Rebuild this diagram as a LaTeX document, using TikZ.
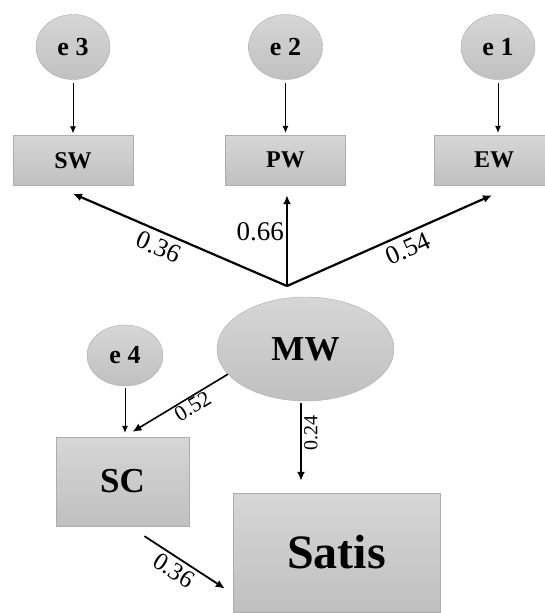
\documentclass[tikz,border=0pt]{standalone}
\usepackage{fontspec}
\setmainfont{Liberation Serif}
\usetikzlibrary{shapes.geometric,arrows.meta}
\definecolor{fillTop}{RGB}{214,214,214}
\definecolor{fillBot}{RGB}{192,192,192}
\definecolor{rim}{RGB}{172,172,172}
\newcommand{\fs}[1]{\fontsize{#1}{#1}\selectfont}
\begin{document}
\begin{tikzpicture}[x=1pt,y=-1pt,
    err/.style={ellipse,draw=rim,top color=fillTop,bottom color=fillBot,inner sep=0pt,
        minimum width=74pt,minimum height=65pt,font=\fs{26}\bfseries},
    obs/.style={rectangle,draw=rim,top color=fillTop,bottom color=fillBot,inner sep=0pt,
        minimum width=120pt,minimum height=50pt,font=\fs{24}\bfseries},
    thin/.style={-{Latex[length=7pt,width=6pt]},line width=0.8pt},
    path/.style={-{Latex[length=9pt,width=8pt]},line width=2.2pt}]
    \useasboundingbox (0,0) rectangle (545,613);
    \node[err] (e3) at (73,47) {e 3};
    \node[err] (e2) at (285.5,47) {e 2};
    \node[err] (e1) at (498,47) {e 1};
    \node[obs] (SW) at (73,160.5) {SW};
    \node[obs] (PW) at (285.5,160) {PW};
    \node[obs] (EW) at (494,160) {EW};
    \node[err,minimum width=177pt,minimum height=104pt,font=\fs{35}\bfseries] (MW) at (305.5,349) {MW};
    \node[err,minimum width=76pt,minimum height=61pt] (e4) at (125,355.5) {e 4};
    \node[obs,minimum width=133pt,minimum height=89pt,font=\fs{35}\bfseries] (SC) at (122.5,481.5) {SC};
    \node[obs,minimum width=207pt,minimum height=119pt,font=\fs{48}\bfseries] (Satis) at (336.5,552.5) {Satis};
    \coordinate (hub) at (287,286);
    \draw[thin,shorten <=3pt,shorten >=2pt] (e3) -- (SW);
    \draw[thin,shorten <=3pt,shorten >=2pt] (e2) -- (PW);
    \draw[thin,shorten <=3pt,shorten >=2pt] (e1.south) -- (e1.south |- EW.north);
    \draw[path] (hub) -- ([yshift=-8pt]SW.south) node[pos=0.57,sloped,below,inner sep=5pt,font=\fs{26}] {0.36};
    \draw[path] (hub) -- ([xshift=1.5pt,yshift=-10pt]PW.south) node[pos=0.6,left,inner sep=2pt,font=\fs{27}] {0.66};
    \draw[path] (hub) -- ([xshift=-2pt,yshift=-10pt]EW.south) node[pos=0.56,sloped,below,inner sep=5pt,font=\fs{26}] {0.54};
    \draw[thin,shorten <=2pt,shorten >=4pt] (e4.south) -- (e4.south |- SC.north);
    \draw[path,line width=1.6pt] (MW.198) -- ([xshift=10pt,yshift=5pt]SC.north) node[pos=0.42,sloped,below,inner sep=1pt,font=\fs{22}] {0.52};
    \draw[path] ([xshift=-4.5pt,yshift=-2pt]MW.south) -- ([xshift=-4.5pt,yshift=12pt]MW.south |- Satis.north) node[pos=0.38,rotate=90,anchor=north,inner sep=2pt,font=\fs{20}] {0.24};
    \draw[path,line width=1.8pt] ([xshift=22pt,yshift=-10pt]SC.south) -- ([xshift=-8pt,yshift=-36pt]Satis.west) node[pos=0.45,sloped,below,inner sep=3pt,font=\fs{25}] {0.36};
\end{tikzpicture}
\end{document}
